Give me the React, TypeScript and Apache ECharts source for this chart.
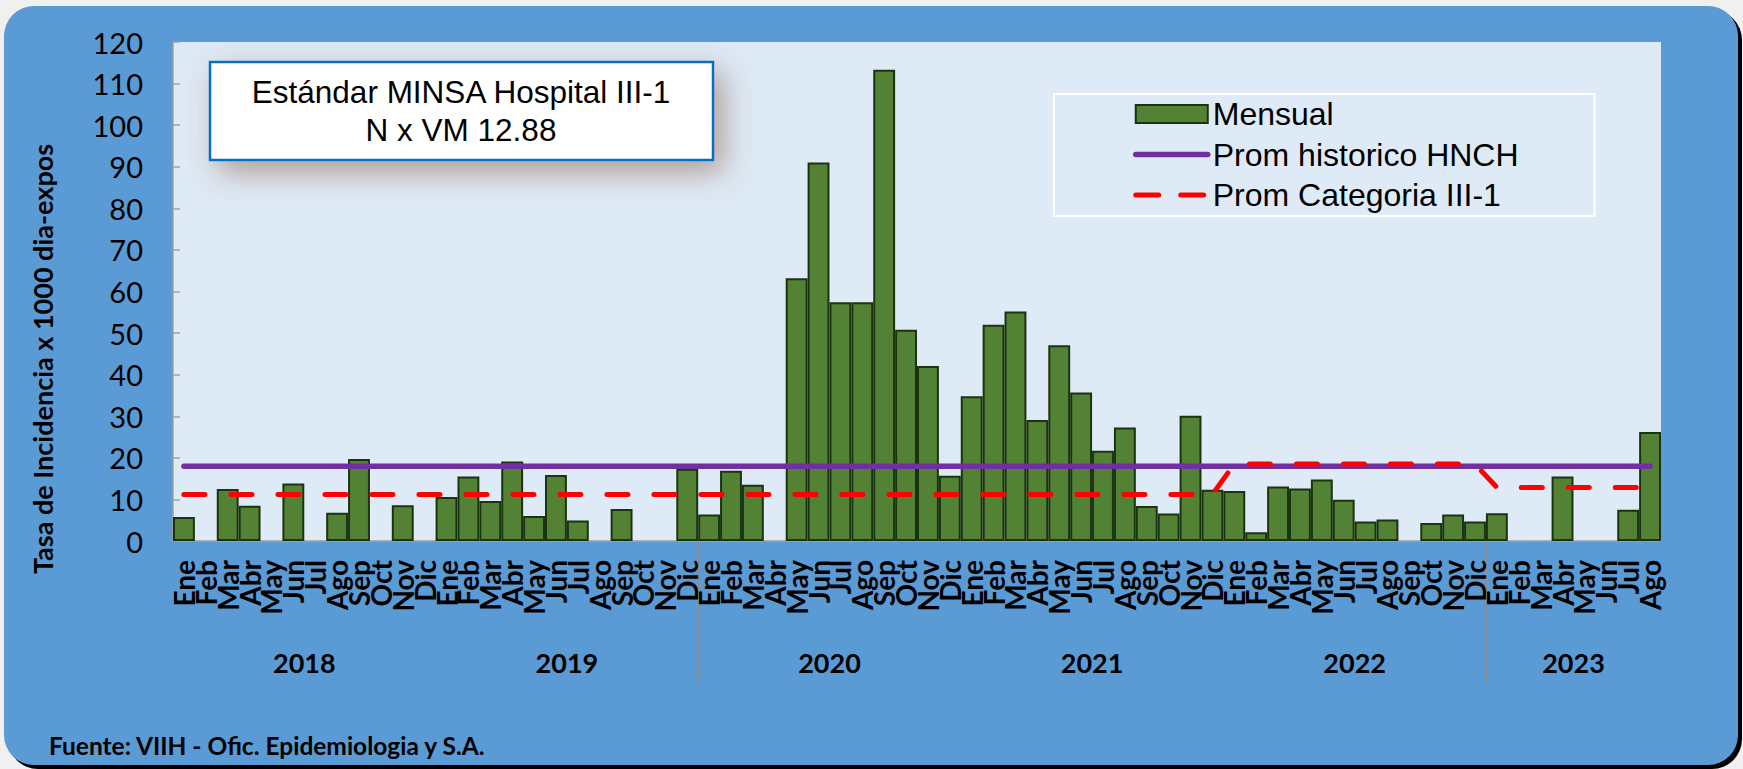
import React, { useEffect, useRef } from "react";
import * as echarts from "echarts";

// ---------- data ----------
const years = ["2018", "2019", "2020", "2021", "2022", "2023"];
const monthsPerYear = [12, 12, 12, 12, 12, 8];
const monthNames = ["Ene", "Feb", "Mar", "Abr", "May", "Jun", "Jul", "Ago", "Sep", "Oct", "Nov", "Dic"];

const mensual2018 = [5.8, 0, 12.5, 8.5, 0, 13.8, 0, 6.8, 19.7, 0, 8.6, 0];
const mensual2019 = [10.6, 15.5, 9.6, 19.1, 6.0, 15.9, 4.9, 0, 7.7, 0, 0, 17.4];
const mensual2020 = [6.4, 16.9, 13.5, 0, 63.2, 91.0, 57.4, 57.4, 113.3, 50.8, 42.1, 15.7];
const mensual2021 = [34.8, 52.0, 55.2, 29.1, 47.1, 35.7, 21.7, 27.3, 8.4, 6.6, 30.1, 12.3];
const mensual2022 = [12.0, 2.1, 13.1, 12.6, 14.8, 9.9, 4.7, 5.2, 0, 4.3, 6.4, 4.7];
const mensual2023 = [6.7, 0, 0, 15.5, 0, 0, 7.5, 26.2];

// yearly reference values
const promHistoricoByYear = [18.0, 18.0, 18.0, 18.0, 18.0, 18.0];
const promCategoriaByYear = [11.2, 11.2, 11.2, 11.2, 18.5, 12.88];

const yTicks = [0, 10, 20, 30, 40, 50, 60, 70, 80, 90, 100, 110, 120];

// ---------- derived ----------
const mensual = [...mensual2018, ...mensual2019, ...mensual2020, ...mensual2021, ...mensual2022, ...mensual2023];
const categories: string[] = [];
const promHistorico: number[] = [];
const promCategoria: number[] = [];
monthsPerYear.forEach((n, yi) => {
  for (let m = 0; m < n; m++) {
    categories.push(monthNames[m]);
    promHistorico.push(promHistoricoByYear[yi]);
    promCategoria.push(promCategoriaByYear[yi]);
  }
});
const boundaries: number[] = [0];
monthsPerYear.forEach((n) => boundaries.push(boundaries[boundaries.length - 1] + n));
const yearCenters = monthsPerYear.map((n, i) => boundaries[i] + n / 2);
const total = boundaries[boundaries.length - 1];

export default function App() {
  const ref = useRef<HTMLDivElement>(null);
  useEffect(() => {
    if (!ref.current) return;
    const chart = echarts.init(ref.current, null, { renderer: "svg" });
    const gray = "#a0a0a0";
    chart.setOption({
      animation: false,
      backgroundColor: "transparent",
      grid: {
        left: 173,
        right: 82,
        top: 42,
        bottom: 228,
        show: true,
        backgroundColor: "#deeaf6",
        borderWidth: 0,
        outerBoundsMode: "none",
      },
      legend: {
        orient: "vertical",
        left: 1054,
        top: 94,
        padding: [4, 76, 5, 79],
        borderColor: "#ffffff",
        borderWidth: 2,
        itemWidth: 72,
        itemHeight: 18,
        itemGap: 8.5,
        itemTextGap: 5,
        textStyle: { fontFamily: "Liberation Sans, Arial", fontSize: 32, color: "#000", lineHeight: 32 },
        data: [
          { name: "Mensual", icon: "rect" },
          {
            name: "Prom historico HNCH",
            itemStyle: { opacity: 0 },
            lineStyle: { width: 5.5, cap: "round", color: "#7030a0", type: "solid" },
          },
          {
            name: "Prom Categoria III-1",
            itemStyle: { opacity: 0 },
            lineStyle: { width: 5, cap: "round", color: "#ff0000", type: [23, 22] },
          },
        ],
      },
      xAxis: [
        {
          type: "category",
          data: categories,
          position: "bottom",
          axisLine: { show: true, lineStyle: { color: gray, width: 1.5 } },
          axisTick: { show: false },
          splitLine: { show: false },
          axisLabel: {
            interval: 0,
            rotate: 90,
            margin: 19,
            color: "#000",
            fontFamily: "Lato, 'Open Sans', sans-serif",
            fontWeight: "bold",
            fontSize: 28,
          },
        },
        {
          type: "value",
          min: 0,
          max: total,
          position: "bottom",
          axisLine: { show: false },
          splitLine: { show: false },
          axisTick: {
            show: true,
            customValues: boundaries,
            length: 142,
            lineStyle: { color: "#8c8c8c", width: 1 },
          },
          axisLabel: {
            customValues: yearCenters,
            margin: 108,
            color: "#000",
            fontFamily: "Lato, 'Open Sans', sans-serif",
            fontWeight: "bold",
            fontSize: 27,
            formatter: (v: number) => {
              const i = yearCenters.indexOf(v);
              return i >= 0 ? years[i] : "";
            },
          },
        },
      ],
      yAxis: {
        type: "value",
        min: yTicks[0],
        max: yTicks[yTicks.length - 1],
        interval: yTicks[1] - yTicks[0],
        axisLine: { show: true, lineStyle: { color: gray, width: 1.5 } },
        axisTick: { show: true, inside: true, length: 7, lineStyle: { color: gray, width: 1.5 } },
        splitLine: { show: false },
        axisLabel: {
          margin: 30,
          color: "#000",
          fontFamily: "Lato, 'Open Sans', sans-serif",
          fontSize: 29,
        },
      },
      series: [
        {
          name: "Mensual",
          type: "bar",
          xAxisIndex: 0,
          data: mensual.map((v) => (v === 0 ? null : v)),
          barCategoryGap: "0%",
          itemStyle: { color: "#548235", borderColor: "#1b3310", borderWidth: 2 },
          z: 2,
        },
        {
          name: "Prom historico HNCH",
          type: "line",
          xAxisIndex: 0,
          data: promHistorico,
          symbol: "none",
          lineStyle: { color: "#7030a0", width: 5.5, cap: "round" },
          itemStyle: { color: "#7030a0" },
          z: 4,
        },
        {
          name: "Prom Categoria III-1",
          type: "line",
          xAxisIndex: 0,
          data: promCategoria,
          symbol: "none",
          lineStyle: { color: "#ff0000", width: 5, type: [21, 26], cap: "round" },
          itemStyle: { color: "#ff0000" },
          z: 5,
        },
      ],
      graphic: [
        {
          type: "rect",
          z: 20,
          shape: { x: 210, y: 62, width: 503, height: 98 },
          style: {
            fill: "#ffffff",
            stroke: "#0070c0",
            lineWidth: 2.5,
            shadowBlur: 30,
            shadowColor: "rgba(130,80,55,0.5)",
            shadowOffsetX: 9,
            shadowOffsetY: 11,
          },
        },
        {
          type: "text",
          z: 21,
          x: 461,
          y: 111,
          style: {
            text: "Estándar MINSA Hospital III-1\nN x VM 12.88",
            fill: "#000",
            font: "31.5px 'Liberation Sans', Arial",
            lineHeight: 38,
            align: "center",
            verticalAlign: "middle",
          },
        },
        {
          type: "text",
          z: 21,
          x: 42,
          y: 359,
          rotation: Math.PI / 2,
          style: {
            text: "Tasa de Incidencia x 1000 dia-expos",
            fill: "#000",
            font: "bold 27px Lato, 'Open Sans', sans-serif",
            align: "center",
            verticalAlign: "middle",
          },
        },
        {
          type: "text",
          z: 21,
          x: 49,
          y: 745,
          style: {
            text: "Fuente: VIIH - Ofic. Epidemiologia y S.A.",
            fill: "#000",
            font: "bold 24.5px Lato, 'Open Sans', sans-serif",
            align: "left",
            verticalAlign: "middle",
          },
        },
      ],
    });
    return () => chart.dispose();
  }, []);

  return (
    <div style={{ position: "fixed", left: 0, top: 0, width: 1743, height: 769, background: "#f0f0f0" }}>
      <div
        style={{
          position: "absolute",
          left: 4,
          top: 6,
          width: 1734,
          height: 759,
          borderRadius: 30,
          background: "#5b9bd5",
          boxShadow: "4px 4px 0 #000",
        }}
      />
      <div ref={ref} style={{ position: "absolute", left: 0, top: 0, width: 1743, height: 769 }} />
    </div>
  );
}
